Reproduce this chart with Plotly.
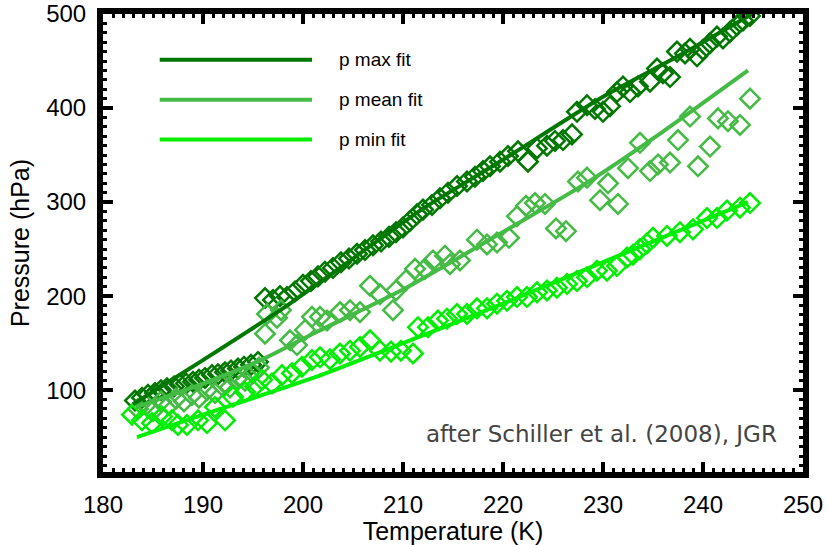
import plotly.graph_objects as go

# ---------------- data ----------------
t_max = [183.2, 183.9, 184.5, 185.2, 185.8, 186.4, 187.1, 187.7, 188.3, 189.0,
         189.6, 190.2, 190.9, 191.5, 192.2, 192.8, 193.5, 194.1, 194.8, 195.5,
         196.2, 197.0, 197.7, 198.4, 199.2, 200.0, 200.8, 201.5, 202.2, 203.0,
         203.8, 204.6, 205.4, 206.2, 207.0, 207.8, 208.6, 209.3, 210.0, 210.7,
         211.4, 212.0, 212.9, 213.7, 214.5, 215.4, 216.4, 217.2, 218.0, 218.7,
         219.7, 220.5, 221.5, 222.5, 223.4, 224.4, 225.2, 226.0, 226.9, 227.4,
         228.4, 229.2, 230.0, 230.7, 231.4, 232.0, 232.7, 233.5, 234.7, 235.4,
         236.0, 236.7, 237.4, 238.2, 238.7, 239.4, 240.0, 240.7, 241.4, 242.0,
         242.7, 243.4, 244.0, 244.7]
p_max = [89, 92, 95, 97, 100, 102, 104, 106, 107, 109,
         111, 113, 116, 117, 119, 121, 123, 125, 127, 130,
         198, 196, 200, 199, 205, 212, 216, 221, 226, 230,
         236, 240, 245, 249, 254, 258, 263, 268, 273, 280,
         287, 292, 297, 304, 310, 317, 322, 327, 333, 338,
         343, 349, 354, 343, 357, 360, 365, 366, 372, 396,
         403, 399, 396, 402, 417, 423, 417, 423, 428, 442,
         437, 433, 460, 458, 463, 455, 462, 469, 476, 474,
         481, 488, 493, 498]

t_mean = [183.5, 184.3, 185.0, 185.8, 186.6, 187.3, 188.1, 188.9, 189.6, 190.4,
          191.2, 191.9, 192.7, 193.4, 194.2, 195.0, 195.6, 196.2, 196.4, 197.4,
          197.8, 198.7, 199.4, 200.2, 200.9, 201.7, 202.4, 203.7, 204.7, 205.7,
          206.7, 207.7, 209.0, 209.3, 210.3, 211.2, 212.2, 213.0, 214.2, 214.7,
          215.7, 217.4, 218.4, 219.4, 220.6, 221.4, 222.3, 223.2, 224.2, 225.3,
          226.3, 227.5, 228.4, 229.7, 230.5, 231.5, 232.5, 233.7, 234.7, 235.5,
          236.7, 237.5, 238.7, 239.5, 240.7, 241.5, 242.5, 243.7, 244.7]
p_mean = [80, 84, 78, 88, 84, 91, 88, 95, 92, 100,
          97, 105, 103, 112, 110, 118, 124, 160, 181, 177,
          185, 153, 148, 164, 178, 178, 174, 183, 185, 183,
          211, 202, 185, 206, 217, 229, 229, 238, 243, 234,
          238, 260, 255, 257, 262, 285, 296, 299, 298, 272,
          269, 322, 326, 302, 320, 298, 336, 363, 333, 340,
          342, 366, 391, 338, 359, 389, 386, 382, 410]

t_min = [182.9, 183.9, 184.9, 185.9, 186.9, 187.5, 188.4, 189.5, 190.4, 191.2,
         192.2, 193.0, 194.2, 195.2, 195.9, 196.9, 197.9, 198.9, 199.9, 200.9,
         201.7, 202.7, 203.7, 204.7, 205.7, 206.7, 207.7, 208.8, 209.8, 211.0,
         211.5, 212.5, 213.5, 214.4, 215.4, 216.4, 217.4, 218.4, 219.4, 220.4,
         221.4, 222.4, 223.4, 224.4, 225.4, 226.4, 227.4, 228.4, 229.4, 230.4,
         231.4, 232.4, 233.0, 233.7, 234.4, 235.0, 236.4, 237.7, 239.0, 240.4,
         241.4, 242.4, 243.7, 244.7]
p_min = [74, 68, 65, 72, 68, 63, 63, 68, 65, 82,
         68, 93, 98, 104, 111, 107, 116, 118, 125, 132,
         135, 133, 139, 142, 146, 153, 142, 141, 142, 139,
         167, 167, 174, 176, 181, 181, 187, 187, 192, 195,
         199, 199, 204, 206, 209, 213, 216, 220, 227, 227,
         232, 241, 244, 250, 256, 262, 264, 268, 271, 283,
         283, 291, 294, 299]

# fit curves
t_max_fit = [183.0, 190.0, 198.0, 205.0, 212.0, 220.0, 230.0, 238.0, 245.4]
p_max_fit = [85, 132, 187, 240, 293, 345, 412, 458, 503]
t_mean_fit = [183.3, 190.0, 196.0, 201.0, 210.0, 219.0, 228.0, 236.0, 244.5]
p_mean_fit = [82, 107, 133, 160, 207, 262, 318, 375, 440]
t_min_fit = [183.4, 190.0, 201.0, 210.0, 220.0, 232.0, 244.5]
p_min_fit = [50, 74, 113, 150, 192, 245, 300]

series_names = ["p max fit", "p mean fit", "p min fit"]
colors = ["#007800", "#44bb44", "#00ee00"]

x_ticks = [180, 190, 200, 210, 220, 230, 240, 250]
y_ticks = [100, 200, 300, 400, 500]

# ---------------- figure ----------------
fig = go.Figure()
pts = [(t_max, p_max), (t_mean, p_mean), (t_min, p_min)]
fits = [(t_max_fit, p_max_fit), (t_mean_fit, p_mean_fit), (t_min_fit, p_min_fit)]

for (tx, py), c in zip(pts, colors):
    fig.add_trace(go.Scatter(
        x=tx, y=py, mode="markers", showlegend=False,
        marker=dict(symbol="diamond-open", size=15, color=c,
                    line=dict(width=2.5, color=c))))
for (tx, py), c, n in zip(fits, colors, series_names):
    fig.add_trace(go.Scatter(
        x=tx, y=py, mode="lines", name=n, showlegend=False,
        line=dict(color=c, width=4, shape="spline", smoothing=0.6)))

sans = "Liberation Sans, Arial, sans-serif"
tick_font = dict(family=sans, size=24, color="black")
title_font = dict(family=sans, size=25, color="black")

fig.update_xaxes(
    range=[180, 250], tickvals=x_ticks, ticks="inside", ticklen=10, tickwidth=4,
    tickcolor="black", showline=True, linewidth=6, linecolor="black",
    mirror="ticks", showgrid=False, zeroline=False, automargin=False,
    minor=dict(dtick=1, tick0=180, ticks="inside", ticklen=4, tickwidth=3,
               tickcolor="black", showgrid=False),
    tickfont=tick_font, ticklabelstandoff=6,
    title=dict(text="Temperature (K)", font=title_font, standoff=0))
fig.update_yaxes(
    range=[13, 500], tickvals=y_ticks, ticks="inside", ticklen=10, tickwidth=4,
    tickcolor="black", showline=True, linewidth=6, linecolor="black",
    mirror="ticks", showgrid=False, zeroline=False, automargin=False,
    minor=dict(dtick=10, tick0=0, ticks="inside", ticklen=4, tickwidth=3,
               tickcolor="black", showgrid=False),
    tickfont=tick_font, ticklabelstandoff=6,
    title=dict(text="Pressure (hPa)", font=title_font, standoff=11))

# custom legend (long line samples)
shapes = []
annotations = []
leg_y = [0.9,  0.813, 0.726]
for yy, c, n in zip(leg_y, colors, series_names):
    shapes.append(dict(type="line", xref="paper", yref="paper",
                       x0=0.081, x1=0.2986, y0=yy, y1=yy,
                       line=dict(color=c, width=4)))
    annotations.append(dict(xref="paper", yref="paper", x=0.334, y=yy,
                            xanchor="left", yanchor="middle", showarrow=False,
                            text=n, font=dict(family=sans, size=19, color="black")))
annotations.append(dict(xref="paper", yref="paper", x=0.966, y=0.083,
                        xanchor="right", yanchor="middle", showarrow=False,
                        text="after Schiller et al. (2008), JGR",
                        font=dict(family="DejaVu Sans, sans-serif", size=23, color="#444444")))

fig.update_layout(
    width=828, height=545,
    margin=dict(l=103, r=25, t=14, b=73),
    plot_bgcolor="white", paper_bgcolor="white",
    showlegend=False, shapes=shapes, annotations=annotations)

fig.write_html("out.html",
               config={"displayModeBar": False},
               post_script="document.body.style.margin='0';document.body.style.overflow='hidden';")
